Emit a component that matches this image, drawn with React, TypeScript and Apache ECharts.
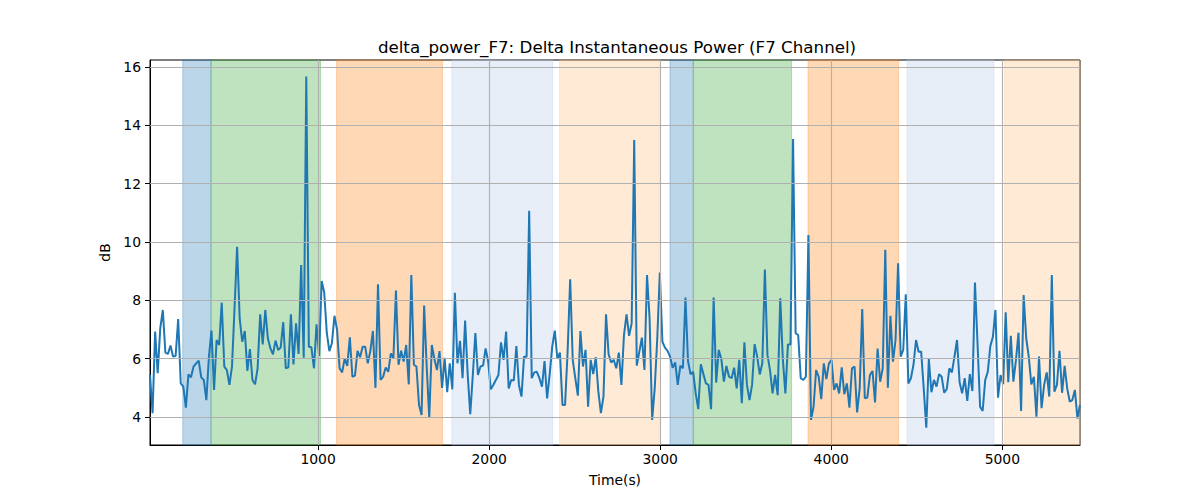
import * as echarts from "echarts";
import { useEffect, useRef } from "react";

// time axis: samples are evenly spaced between the first and last time
const T_START = 17.5;
const T_END = 5454;

const power = [
  5.44, 4.13, 6.93, 5.5, 7.04, 7.67, 6.21, 6.16, 6.45, 6.07,
  6.09, 7.36, 5.15, 5.04, 4.32, 5.46, 5.36, 5.73, 5.84, 5.93,
  5.36, 5.27, 4.58, 6.07, 6.96, 4.93, 6.64, 6.47, 7.92, 5.73,
  5.61, 5.1, 5.73, 7.73, 9.84, 7.38, 6.58, 6.95, 5.58, 6.33,
  5.27, 5.12, 5.67, 7.52, 6.49, 7.67, 6.7, 6.35, 6.15, 6.62,
  6.3, 6.38, 7.25, 5.67, 5.7, 7.52, 5.8, 7.21, 6.16, 9.21,
  6.03, 15.67,
  6.41, 6.39, 5.67, 7.18, 6.09, 8.66, 8.27, 6.89, 6.26, 6.53,
  7.47, 7.0, 5.67, 5.53, 6.01, 5.75, 6.73, 5.38, 5.42, 6.27,
  6.05, 6.41, 6.41, 5.84, 6.26, 6.95, 5.0, 8.55, 5.27, 5.38,
  5.7, 5.55, 6.18, 6.01, 8.34, 5.79, 6.27, 5.9, 6.47, 5.12,
  8.87, 5.79, 5.73, 4.41, 4.07, 7.82, 5.73, 3.98, 6.47, 5.99,
  5.61, 6.26, 5.0, 6.03, 4.85, 5.84, 4.95, 8.26, 5.84,
  6.61, 5.33, 7.31, 5.46, 4.1, 5.44, 6.88, 5.44, 5.73, 5.76,
  6.35, 5.9, 4.95, 5.1, 5.27, 5.44, 6.56, 5.96, 6.93, 4.98,
  5.27, 5.25, 6.43, 5.1, 4.7, 6.07, 6.07, 11.07, 5.33, 5.53,
  5.55, 5.33, 5.04, 5.92, 4.64, 5.46, 6.41, 6.96, 5.99, 6.21,
  4.41, 4.41, 6.24, 8.72, 5.96, 5.33, 4.73, 6.95, 5.73, 6.3,
  4.35, 5.96, 5.47, 6.05, 4.87, 4.13, 4.7, 7.52, 6.15, 5.87,
  5.96, 5.67, 6.21, 5.1, 6.81, 7.52, 6.78, 7.21, 13.5, 5.76,
  6.24, 6.72, 5.61, 8.87, 7.38, 3.9, 4.98, 6.7, 8.95, 6.58,
  6.38, 6.27, 6.07, 5.69, 5.87, 5.1, 5.76, 5.67, 8.1, 5.92,
  5.46, 5.55, 4.81, 4.27, 5.81, 5.47, 5.15, 5.1, 4.27, 8.1,
  5.18, 6.3, 5.99, 5.21, 5.75, 5.38, 5.33, 5.69, 4.98, 5.96,
  4.47, 6.56, 5.1, 4.58, 5.1, 6.5, 6.07, 5.46, 5.84,
  9.06, 6.13, 5.61, 4.81, 5.44, 4.75, 8.07, 5.99, 4.81, 6.49,
  6.49, 13.53, 6.87, 6.81, 5.33, 5.27, 5.38, 10.24, 3.9, 4.35,
  5.61, 5.38, 4.61, 5.84, 5.3, 5.84, 5.96, 4.93, 5.15, 4.81,
  5.7, 4.78, 5.15, 4.32, 5.67, 5.73, 4.16, 4.98, 7.7, 4.64,
  4.67, 5.44, 5.58, 4.5, 6.35, 5.21, 5.67, 9.73, 5.0, 7.47,
  5.9, 6.64, 9.27, 6.07, 6.3, 8.21, 5.15, 5.33, 5.79, 6.64,
  6.24, 6.24, 4.98, 3.63, 5.99, 4.85, 5.27, 5.04, 5.47, 5.38,
  4.83, 4.96, 5.67, 5.53, 6.07, 6.64, 5.19, 4.81, 5.33, 4.55,
  5.47, 4.89, 8.61, 6.53, 4.35, 4.21, 5.27, 5.55, 6.43, 6.75,
  7.67, 4.66, 5.44, 5.12, 7.59, 5.19, 6.78, 5.21, 5.95, 6.89,
  4.21, 8.18, 6.7, 6.07, 5.12, 5.38, 4.01, 6.07, 4.3, 5.1,
  5.53, 4.7, 8.87, 4.87, 5.1, 6.27, 4.83, 5.75, 4.98, 4.53,
  4.58, 4.93, 3.95, 4.41,
];

// shaded phases
const bandKinds = ["a", "b", "c", "d", "e", "a", "b", "c", "d", "e"];
const bandStarts = [209, 374, 1108, 1782, 2412, 3057, 3193, 3864, 4443, 5014];
const bandEnds = [374, 1014, 1727, 2372, 2994, 3193, 3768, 4394, 4951, 5454];

const xTicks = [1000, 2000, 3000, 4000, 5000];
const yTicks = [4, 6, 8, 10, 12, 14, 16];
const Y_MIN = 3.04;
const Y_MAX = 16.24;

const bandColor: Record<string, string> = {
  a: "rgba(31,119,180,0.3)",
  b: "rgba(44,160,44,0.3)",
  c: "rgba(255,127,14,0.3)",
  d: "rgba(174,199,232,0.3)",
  e: "rgba(255,187,120,0.3)",
};

const FONT = "DejaVu Sans";

export default function App() {
  const ref = useRef<HTMLDivElement | null>(null);

  useEffect(() => {
    document.body.style.margin = "0";
    if (!ref.current) {
      return;
    }

    const step = (T_END - T_START) / (power.length - 1);
    const points = power.map((v, i) => [T_START + i * step, v]);

    const chart = echarts.init(ref.current, undefined, { renderer: "svg" });
    chart.setOption({
      animation: false,
      textStyle: { fontFamily: FONT },
      title: {
        text: "delta_power_F7: Delta Instantaneous Power (F7 Channel)",
        left: 612,
        top: 33,
        textAlign: "center",
        textStyle: { fontFamily: FONT, fontSize: 16.7, fontWeight: "normal", color: "#000" },
      },
      grid: {
        left: 150,
        right: 120,
        top: 60,
        bottom: 55,
        show: true,
        borderColor: "#000",
        borderWidth: 1,
        backgroundColor: "transparent",
      },
      xAxis: {
        type: "value",
        min: T_START,
        max: T_END,
        name: "Time(s)",
        nameLocation: "middle",
        nameGap: 28,
        nameTextStyle: { fontFamily: FONT, fontSize: 13.9, color: "#000" },
        axisLine: { show: true, lineStyle: { color: "#000", width: 1 } },
        axisTick: { show: true, customValues: xTicks, length: 5, lineStyle: { color: "#000" } },
        axisLabel: {
          customValues: xTicks,
          margin: 7,
          fontFamily: FONT,
          fontSize: 13.9,
          color: "#000",
          formatter: (v: number) => String(v),
        },
        splitLine: { show: false },
      },
      yAxis: {
        type: "value",
        min: Y_MIN,
        max: Y_MAX,
        name: "dB",
        nameLocation: "middle",
        nameGap: 33,
        nameTextStyle: { fontFamily: FONT, fontSize: 13.9, color: "#000" },
        axisLine: { show: true, lineStyle: { color: "#000", width: 1 } },
        axisTick: { show: true, customValues: yTicks, length: 5, lineStyle: { color: "#000" } },
        axisLabel: {
          customValues: yTicks,
          margin: 9,
          fontFamily: FONT,
          fontSize: 13.9,
          color: "#000",
          formatter: (v: number) => String(v),
        },
        splitLine: { show: false },
      },
      series: [
        {
          name: "bands",
          type: "line",
          data: [],
          z: 1,
          silent: true,
          markArea: {
            silent: true,
            data: bandKinds.map((k, i) => [
              {
                xAxis: bandStarts[i],
                itemStyle: { color: bandColor[k], borderColor: bandColor[k], borderWidth: 1 },
              },
              { xAxis: bandEnds[i] },
            ]),
          },
        },
        {
          name: "grid",
          type: "line",
          data: [],
          z: 2,
          silent: true,
          markLine: {
            silent: true,
            symbol: ["none", "none"],
            label: { show: false },
            lineStyle: { color: "#b0b0b0", width: 1.1, type: "solid" },
            data: [
              ...xTicks.map((v) => ({ xAxis: v })),
              ...yTicks.map((v) => ({ yAxis: v })),
            ],
          },
        },
        {
          name: "delta_power_F7",
          type: "line",
          data: points,
          z: 3,
          symbol: "none",
          lineStyle: { color: "#1f77b4", width: 2 },
        },
      ],
    });

    return () => {
      chart.dispose();
    };
  }, []);

  return <div ref={ref} style={{ width: 1200, height: 500 }} />;
}
